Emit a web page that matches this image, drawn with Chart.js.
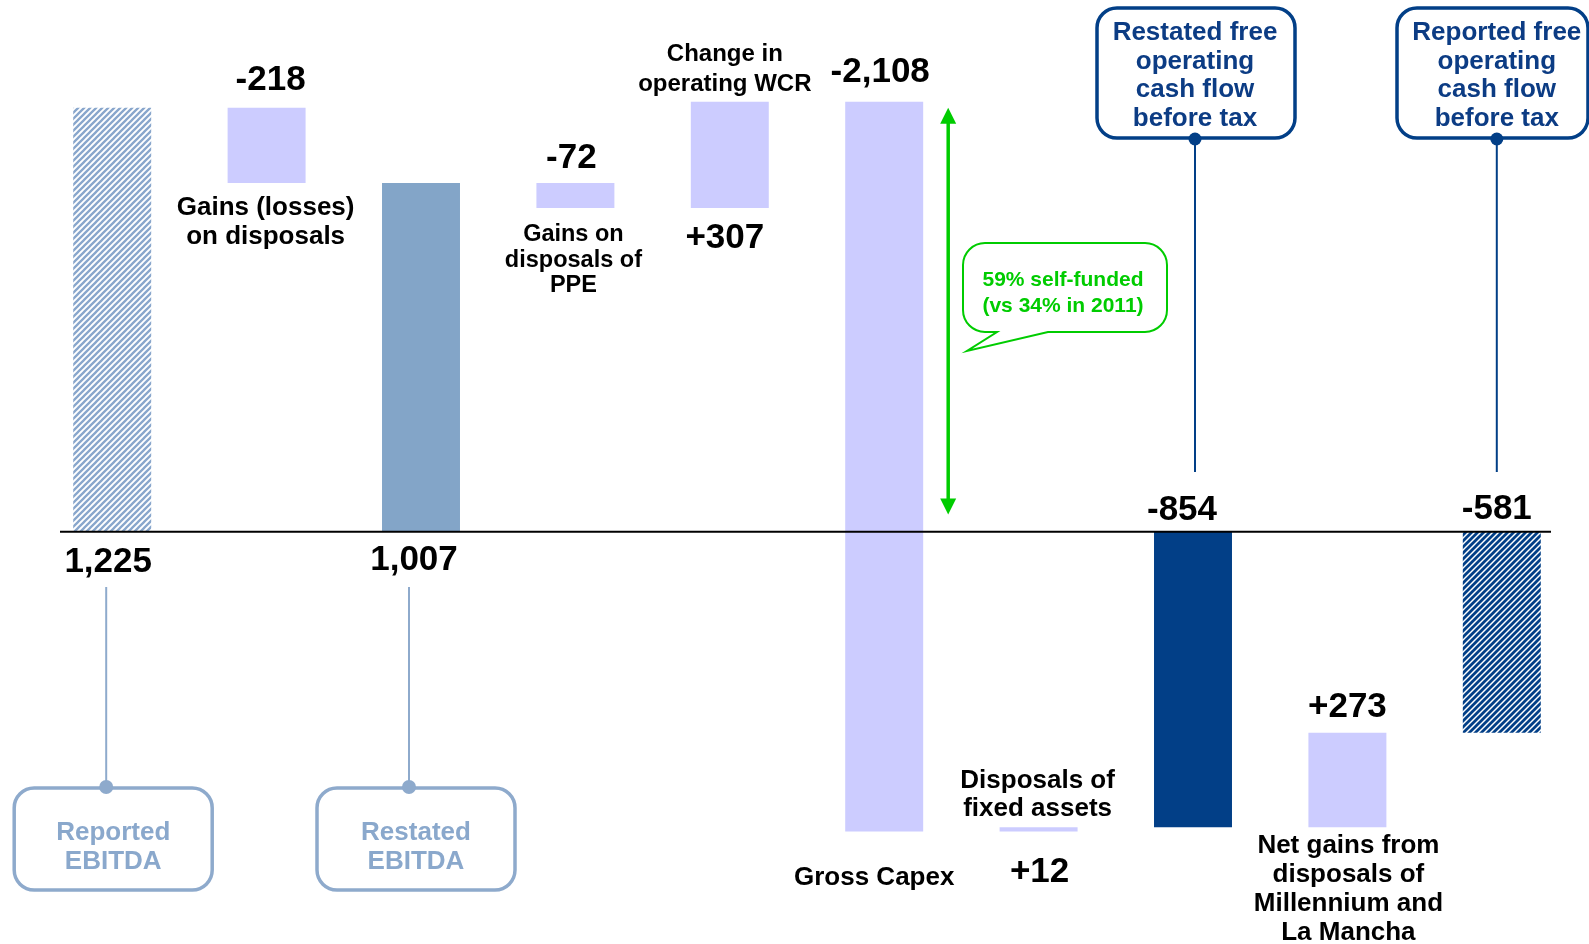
<!DOCTYPE html>
<html>
<head>
<meta charset="utf-8">
<script src="https://cdn.jsdelivr.net/npm/chart.js@4/dist/chart.umd.min.js"></script>
<style>
  html, body { margin: 0; padding: 0; background: #fff; }
  #wrap { width: 1589px; height: 944px; position: relative; }
</style>
</head>
<body>
<div id="wrap"><canvas id="chart"></canvas></div>
<script>
// waterfall steps, in EUR m
const categories = [
  ['Reported', 'EBITDA'],
  ['Gains (losses)', 'on disposals'],
  ['Restated', 'EBITDA'],
  ['Gains on', 'disposals of', 'PPE'],
  ['Change in', 'operating WCR'],
  ['Gross Capex'],
  ['Disposals of', 'fixed assets'],
  ['Restated free', 'operating', 'cash flow', 'before tax'],
  ['Net gains from', 'disposals of', 'Millennium and', 'La Mancha'],
  ['Reported free', 'operating', 'cash flow', 'before tax']
];
const values = [1225, -218, 1007, -72, 307, -2108, 12, -854, 273, -581];
const kinds = ['total', 'delta', 'total', 'delta', 'delta', 'delta', 'delta', 'total', 'delta', 'total'];
const selfFunded = ['59% self-funded', '(vs 34% in 2011)'];
const arrowRange = [1225, 50];

const FONT = '"Liberation Sans", Arial, sans-serif';
const LAVENDER = '#ccccff';
const NAVY = '#023f87';
const STEEL = '#83a5c8';
const GREEN = '#00cc00';

function hatch(fg, bg, w) {
  const s = 6;
  const c = document.createElement('canvas');
  c.width = c.height = s;
  const g = c.getContext('2d');
  g.fillStyle = bg;
  g.fillRect(0, 0, s, s);
  g.strokeStyle = fg;
  g.lineWidth = w;
  g.beginPath();
  g.moveTo(-1, s + 1); g.lineTo(s + 1, -1);
  g.moveTo(-1, 1); g.lineTo(1, -1);
  g.moveTo(s - 1, s + 1); g.lineTo(s + 1, s - 1);
  g.stroke();
  return g.createPattern(c, 'repeat');
}

// floating bars from running total
const ranges = [];
let run = 0;
values.forEach((v, i) => {
  if (kinds[i] === 'total') { ranges.push([0, v]); run = v; }
  else { ranges.push([run, run + v]); run += v; }
});

const colors = [
  hatch('#88a6cc', '#ffffff', 2.3), LAVENDER, STEEL, LAVENDER, LAVENDER,
  LAVENDER, LAVENDER, NAVY, LAVENDER, hatch(NAVY, '#ffffff', 2.8)
];

function fmt(v, i) {
  const s = Math.abs(v).toLocaleString('en-US');
  if (v < 0) return '-' + s;
  return kinds[i] === 'delta' ? '+' + s : s;
}

// label placement: offset from bar centre, baseline y
const valuePos = [[-4, 572], [4, 90], [-7, 570], [-4, 168], [-5, 248], [-4, 82], [1, 882], [-11, 520], [0, 717], [-5, 519]];
const catPos = [null, [-1, 215, 29, 26], null, [-2, 241, 25.5, 23.5], [-5, 61, 29.5, 24], [-10, 885, 0, 26], [-1, 788, 28, 26], null, [1, 853, 29, 26], null];

function lines(ctx, arr, x, y, lh, size, color) {
  ctx.font = `bold ${size}px ${FONT}`;
  ctx.fillStyle = color;
  ctx.textAlign = 'center';
  ctx.textBaseline = 'alphabetic';
  arr.forEach((t, k) => ctx.fillText(t, x, y + k * lh));
}

function rbox(ctx, l, t, w, h, r) {
  ctx.beginPath();
  ctx.roundRect(l, t, w, h, r);
}

const overlay = {
  id: 'overlay',
  afterDatasetsDraw(chart) {
    const ctx = chart.ctx;
    const xs = chart.scales.x, ys = chart.scales.y;
    const y0 = ys.getPixelForValue(0);
    ctx.save();

    // axis line
    ctx.strokeStyle = '#000';
    ctx.lineWidth = 2;
    ctx.beginPath();
    ctx.moveTo(60, y0); ctx.lineTo(1551, y0);
    ctx.stroke();

    // values
    values.forEach((v, i) => {
      const p = valuePos[i];
      lines(ctx, [fmt(v, i)], xs.getPixelForValue(i) + p[0], p[1], 0, 35, '#000');
    });

    // category labels
    categories.forEach((c, i) => {
      const p = catPos[i];
      if (!p) return;
      lines(ctx, c, xs.getPixelForValue(i) + p[0], p[1], p[2], p[3], '#000');
    });

    // EBITDA callouts below the axis
    [[0, 1], [2, -5]].forEach(([i, dx]) => {
      const cx = xs.getPixelForValue(i) + dx;
      const lx = cx - 7;
      ctx.strokeStyle = '#8eaacc';
      ctx.lineWidth = 2;
      ctx.beginPath(); ctx.moveTo(lx, 587); ctx.lineTo(lx, 788); ctx.stroke();
      ctx.lineWidth = 3.5;
      rbox(ctx, cx - 99, 788, 198, 102, 20);
      ctx.fillStyle = '#fff'; ctx.fill(); ctx.stroke();
      ctx.fillStyle = '#8eaacc';
      ctx.beginPath(); ctx.arc(lx, 787, 7, 0, Math.PI * 2); ctx.fill();
      lines(ctx, categories[i], cx, 840, 28.5, 26, '#8aa8cc');
    });

    // free operating cash flow callouts
    [[7, 1097, 1295], [9, 1397, 1588]].forEach(([i, l, r]) => {
      const dotX = xs.getPixelForValue(i) + (i === 7 ? 2 : -5);
      ctx.strokeStyle = NAVY;
      ctx.lineWidth = 2;
      ctx.beginPath(); ctx.moveTo(dotX, 138); ctx.lineTo(dotX, 472); ctx.stroke();
      ctx.lineWidth = 3.5;
      rbox(ctx, l, 8, r - l, 130, 20);
      ctx.fillStyle = '#fff'; ctx.fill(); ctx.stroke();
      ctx.fillStyle = NAVY;
      ctx.beginPath(); ctx.arc(dotX, 139, 6.5, 0, Math.PI * 2); ctx.fill();
      lines(ctx, categories[i], dotX, 40, 28.7, 26, '#0c3c84');
    });

    // self-funding arrow
    const ax = xs.getPixelForValue(5) + 64;
    const at = ys.getPixelForValue(arrowRange[0]);
    const ab = ys.getPixelForValue(arrowRange[1]);
    ctx.strokeStyle = GREEN; ctx.fillStyle = GREEN;
    ctx.lineWidth = 3.5;
    ctx.beginPath(); ctx.moveTo(ax, at + 12); ctx.lineTo(ax, ab - 12); ctx.stroke();
    ctx.beginPath(); ctx.moveTo(ax, at); ctx.lineTo(ax - 8, at + 16); ctx.lineTo(ax + 8, at + 16); ctx.closePath(); ctx.fill();
    ctx.beginPath(); ctx.moveTo(ax, ab); ctx.lineTo(ax - 8, ab - 16); ctx.lineTo(ax + 8, ab - 16); ctx.closePath(); ctx.fill();

    // speech bubble
    const L = 963, R = 1167, T = 243, B = 332, rr = 22;
    ctx.beginPath();
    ctx.moveTo(L + rr, T);
    ctx.arcTo(R, T, R, B, rr);
    ctx.arcTo(R, B, L, B, rr);
    ctx.lineTo(1048, B);
    ctx.lineTo(967, 351);
    ctx.lineTo(997, B);
    ctx.arcTo(L, B, L, T, rr);
    ctx.arcTo(L, T, R, T, rr);
    ctx.closePath();
    ctx.fillStyle = '#fff'; ctx.fill();
    ctx.lineWidth = 2; ctx.stroke();
    lines(ctx, selfFunded, 1063, 286, 26, 21, GREEN);

    ctx.restore();
  }
};

new Chart(document.getElementById('chart'), {
  type: 'bar',
  data: {
    labels: categories.map(c => c.join(' ')),
    datasets: [{
      data: ranges,
      backgroundColor: colors,
      borderWidth: 0,
      borderSkipped: false,
      barPercentage: 0.505,
      categoryPercentage: 1
    }]
  },
  options: {
    responsive: true,
    maintainAspectRatio: false,
    animation: false,
    events: [],
    layout: { padding: { left: 35, right: 10, top: 0, bottom: 0 } },
    plugins: { legend: { display: false }, tooltip: { enabled: false } },
    scales: {
      x: { display: false },
      y: { display: false, min: -1191, max: 1536 }
    }
  },
  plugins: [overlay]
});
</script>
</body>
</html>
